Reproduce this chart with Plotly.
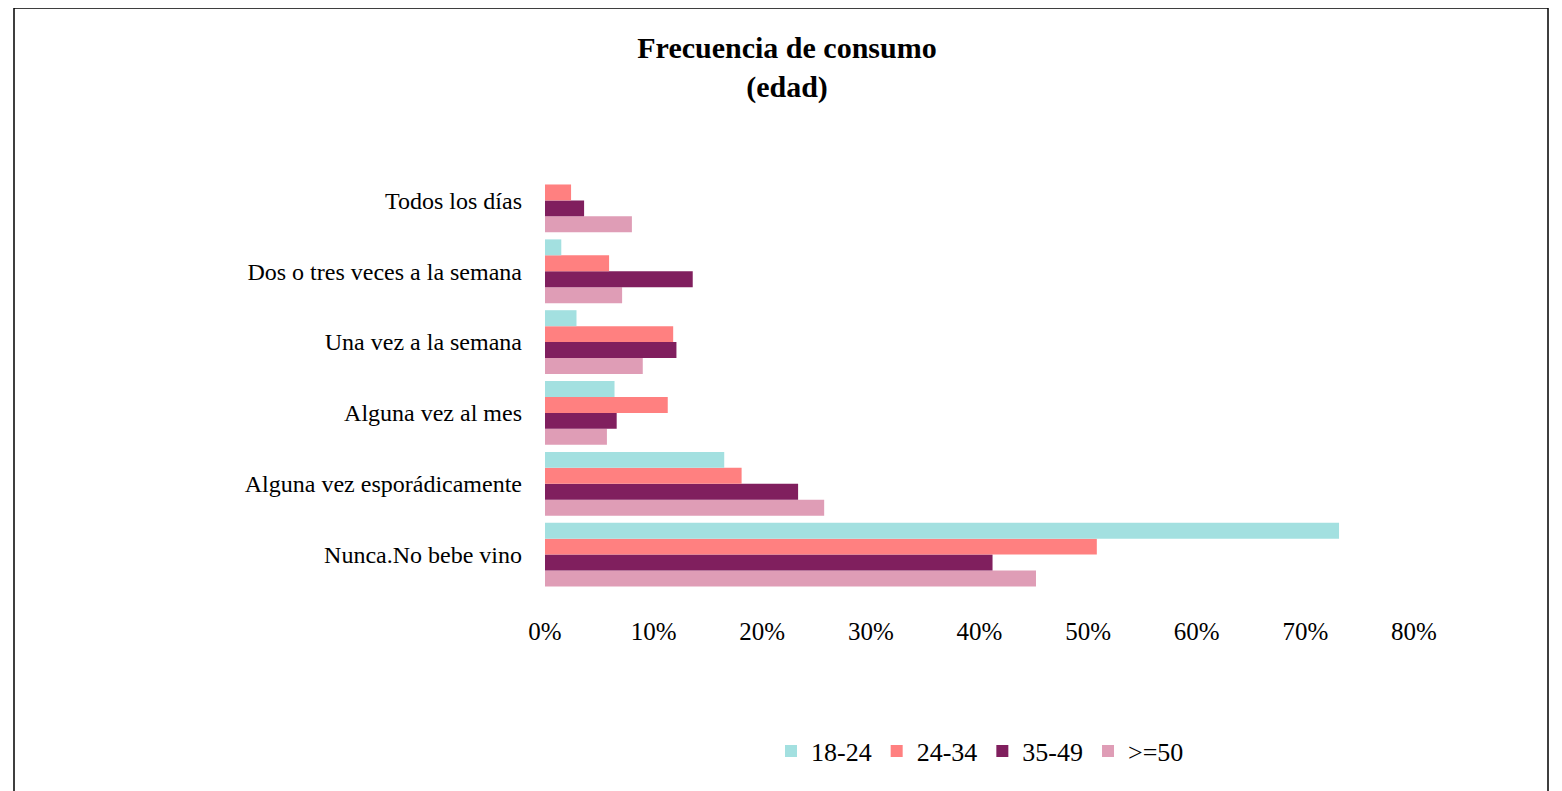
import plotly.graph_objects as go

categories = ["Nunca.No bebe vino", "Alguna vez esporádicamente", "Alguna vez al mes",
              "Una vez a la semana", "Dos o tres veces a la semana", "Todos los días"]
s18_24 = [0.731, 0.165, 0.064, 0.029, 0.015, 0.0]
s24_34 = [0.508, 0.181, 0.113, 0.118, 0.059, 0.024]
s35_49 = [0.412, 0.233, 0.066, 0.121, 0.136, 0.036]
s50 = [0.452, 0.257, 0.057, 0.090, 0.071, 0.080]
series_names = ["18-24", "24-34", "35-49", ">=50"]
colors = ["#A3E0E0", "#FF8080", "#801F5E", "#DF9DB6"]
tick_vals = [0, 0.1, 0.2, 0.3, 0.4, 0.5, 0.6, 0.7, 0.8]
tick_text = ["0%", "10%", "20%", "30%", "40%", "50%", "60%", "70%", "80%"]

OFF = 8  # page body margin
W, H = 1562 - OFF, 791 - OFF
# target pixel positions in the window
L_PX, R_PX, T_PX, B_PX = 545, 1414, 165, 590
ml, mr, mt, mb = L_PX - OFF, (W + OFF) - R_PX, T_PX - OFF, (H + OFF) - B_PX

fig = go.Figure()
series = list(zip(series_names, [s18_24, s24_34, s35_49, s50], colors))
for name, vals, c in reversed(series):
    fig.add_trace(go.Bar(y=categories, x=vals, name=name, orientation="h",
                         marker=dict(color=c, line=dict(width=0))))

pw = W - ml - mr
ph = H - mt - mb
def px2x(px):
    return (px - OFF - ml) / pw
def py2y(py):
    return 1 - (py - OFF - mt) / ph

fig.update_layout(
    width=W, height=H,
    margin=dict(l=ml, r=mr, t=mt, b=mb, autoexpand=False),
    paper_bgcolor="white", plot_bgcolor="white",
    barmode="group", bargap=0.1, bargroupgap=0,
    font=dict(family="Liberation Serif", color="black", size=22),
    title=dict(text="<b>Frecuencia de consumo<br>(edad)</b>", x=(787 - OFF) / W, xanchor="center",
               xref="container", y=1 - (58 - OFF) / H, yanchor="top", yref="container",
               font=dict(size=30, family="Liberation Serif")),
    xaxis=dict(range=[0, 0.8], tickvals=tick_vals, ticktext=tick_text, showgrid=False,
               zeroline=False, showline=False, ticks="", ticklabelstandoff=24,
               tickfont=dict(size=25)),
    yaxis=dict(categoryorder="array", categoryarray=categories,
               showgrid=False, zeroline=False, showline=False, ticks="", ticklabelstandoff=22,
               tickfont=dict(size=24)),
    legend=dict(orientation="h", x=px2x(980), xanchor="center", y=py2y(751), yanchor="middle",
                traceorder="reversed", font=dict(size=26), tracegroupgap=0),
    showlegend=True,
)
fig.add_shape(type="rect", xref="paper", yref="paper",
              x0=px2x(14), x1=px2x(1548), y0=py2y(800), y1=py2y(8),
              line=dict(color="black", width=1.5), fillcolor="rgba(0,0,0,0)", layer="below")
fig.write_html("out.html")
